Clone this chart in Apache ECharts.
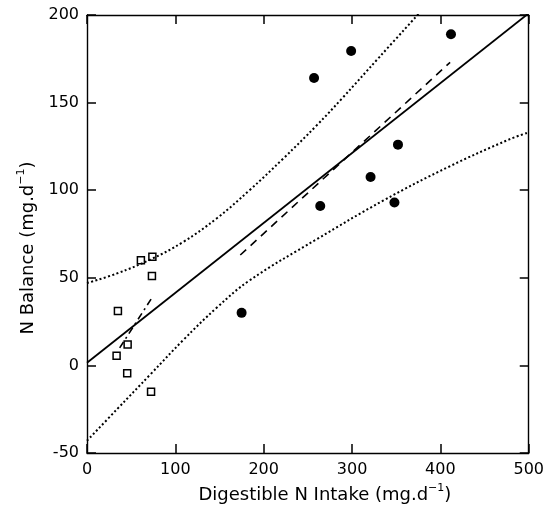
<!DOCTYPE html>
<html>
	<head>
		<meta charset="utf-8">
		<title>N Balance</title>
		<script src="https://cdn.jsdelivr.net/npm/echarts@6/dist/echarts.min.js" type="text/javascript" charset="utf-8"></script>
		<style>
			html, body { margin: 0; padding: 0; background: #fff; }
			#chart { width: 547px; height: 521px; }
		</style>
	</head>
	<body>
		<div id="chart"></div>
		<script type="text/javascript">
			// 读图得到的数据 (mg/d)
			const xTicks = [0, 100, 200, 300, 400, 500]
			const yTicks = [-50, 0, 50, 100, 150, 200]

			// 实心圆点
			const circleX = [175, 257, 299, 264, 321, 348, 352, 412]
			const circleY = [30, 164, 179.5, 91, 107.5, 93, 126, 189]

			// 空心方块
			const squareX = [61, 74, 73.5, 35, 46, 33.5, 45.5, 72.5]
			const squareY = [60, 62, 51, 31, 12, 5.5, -4.5, -15]

			// 回归线端点
			const fitAllX = [0, 500]
			const fitAllY = [1.5, 201]
			const fitCircleX = [173.5, 411]
			const fitCircleY = [63, 173]
			const fitSquareX = [37, 74]
			const fitSquareY = [10, 39]

			// 置信带 (点线)
			const upperX = [0, 34, 72, 109, 147, 184, 222, 260, 288, 331, 376]
			const upperY = [47, 52.5, 60.5, 70.5, 84, 100, 118, 137, 152, 176, 201]
			const lowerX = [0, 34, 72, 109, 147, 184, 260, 335, 410, 478, 500]
			const lowerY = [-43, -25, -5, 14.5, 33, 48.5, 72, 94, 113.5, 129, 133]

			const pairs = (xs, ys) => xs.map((x, i) => [x, ys[i]])

			const font = 'DejaVu Sans'
			const black = '#000'

			const lineSt = { show: true, onZero: false, lineStyle: { color: black, width: 1.4 } }
			const tickSt = { show: true, inside: true, length: 9, lineStyle: { color: black, width: 1.5 } }

			const nameRich = {
				t: { fontFamily: font, fontSize: 18, color: black },
				s: { fontFamily: font, fontSize: 11, color: black, padding: [0, 0, 13, 0] },
			}

			const getOp = () => {
				return {
					animation: false,
					backgroundColor: '#fff',
					grid: { left: 87, right: 18, top: 15, bottom: 68 },
					xAxis: [
						{
							type: 'value', position: 'bottom',
							min: xTicks[0], max: xTicks[xTicks.length - 1], interval: 100,
							axisLine: lineSt, axisTick: tickSt, splitLine: { show: false },
							axisLabel: { color: black, fontFamily: font, fontSize: 16, margin: 9 },
							name: '{t|Digestible N Intake (mg.d}{s|−1}{t|)}',
							nameLocation: 'middle', nameGap: 29,
							nameTextStyle: { rich: nameRich, padding: [0, 0, 0, 34] },
						},
						{
							type: 'value', position: 'top',
							min: xTicks[0], max: xTicks[xTicks.length - 1], interval: 100,
							axisLine: lineSt, axisTick: tickSt, splitLine: { show: false },
							axisLabel: { show: false },
						},
					],
					yAxis: [
						{
							type: 'value', position: 'left',
							min: yTicks[0], max: yTicks[yTicks.length - 1], interval: 50,
							axisLine: lineSt, axisTick: tickSt, splitLine: { show: false },
							axisLabel: { color: black, fontFamily: font, fontSize: 16, margin: 8 },
							name: '{t|N Balance (mg.d}{s|−1}{t|)}',
							nameLocation: 'middle', nameGap: 47, nameRotate: 90,
							nameTextStyle: { rich: nameRich, padding: [0, 28, 0, 0] },
						},
						{
							type: 'value', position: 'right',
							min: yTicks[0], max: yTicks[yTicks.length - 1], interval: 50,
							axisLine: lineSt, axisTick: tickSt, splitLine: { show: false },
							axisLabel: { show: false },
						},
					],
					series: [
						{
							name: 'upper', type: 'line', smooth: 0.4, symbol: 'none',
							data: pairs(upperX, upperY),
							lineStyle: { color: black, width: 2, type: [2, 2.4] },
						},
						{
							name: 'lower', type: 'line', smooth: 0.4, symbol: 'none',
							data: pairs(lowerX, lowerY),
							lineStyle: { color: black, width: 2, type: [2, 2.4] },
						},
						{
							name: 'all', type: 'line', symbol: 'none',
							data: pairs(fitAllX, fitAllY),
							lineStyle: { color: black, width: 1.8 },
						},
						{
							name: 'circleFit', type: 'line', symbol: 'none',
							data: pairs(fitCircleX, fitCircleY),
							lineStyle: { color: black, width: 1.6, type: [8, 6] },
						},
						{
							name: 'squareFit', type: 'line', symbol: 'none',
							data: pairs(fitSquareX, fitSquareY),
							lineStyle: { color: black, width: 1.6, type: [7, 4, 2, 4] },
						},
						{
							name: 'circles', type: 'scatter', symbol: 'circle', symbolSize: 10,
							data: pairs(circleX, circleY),
							itemStyle: { color: black, opacity: 1 },
						},
						{
							name: 'squares', type: 'scatter', symbol: 'rect', symbolSize: 7,
							data: pairs(squareX, squareY),
							itemStyle: { color: '#fff', borderColor: black, borderWidth: 1.5, opacity: 1 },
						},
					]
				}
			}

			var myChart = echarts.init(document.getElementById('chart'))
			myChart.setOption(getOp())
		</script>
	</body>
</html>
